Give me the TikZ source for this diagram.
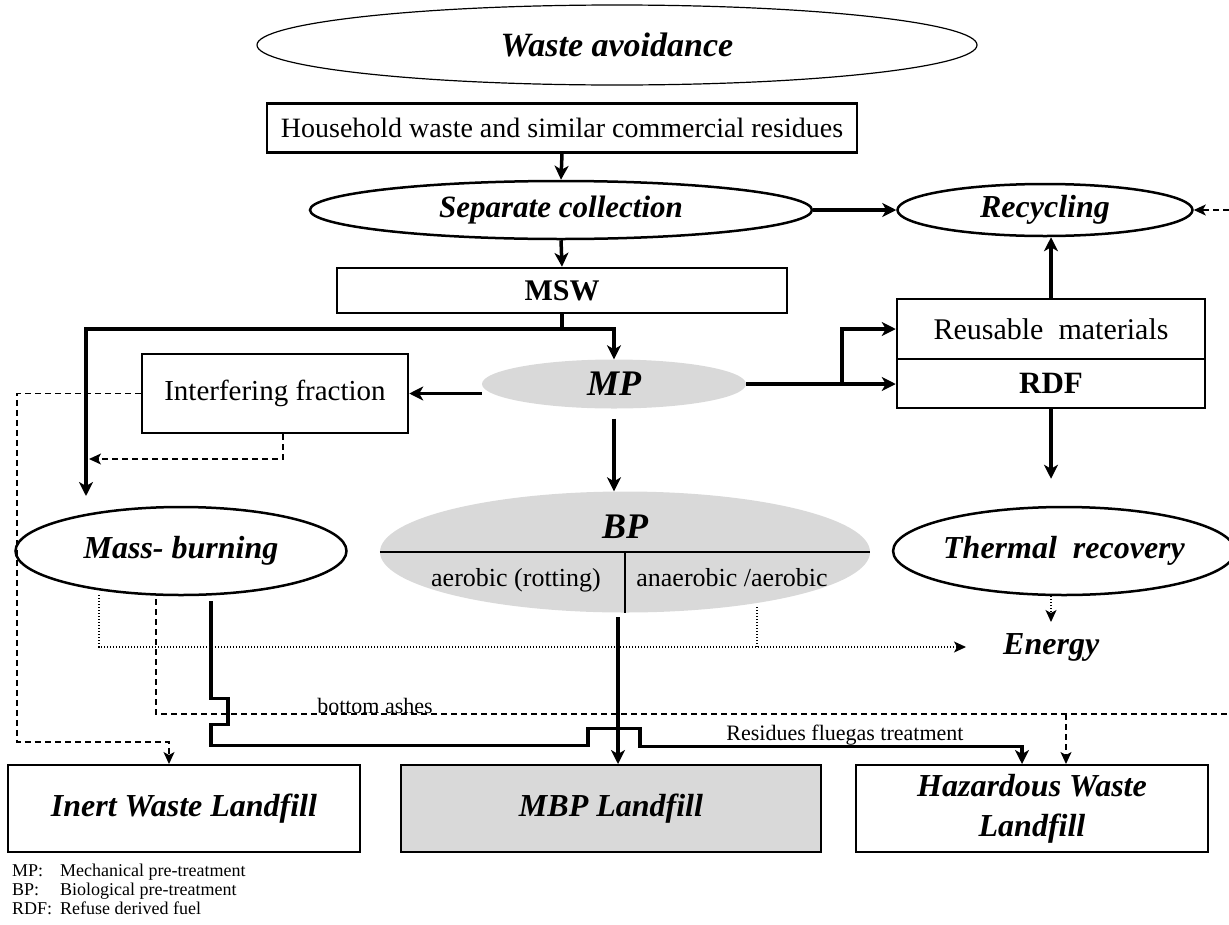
\documentclass[tikz,border=0pt]{standalone}
\usepackage{fontspec}
\setmainfont{Liberation Serif}
\usetikzlibrary{shapes.geometric,arrows.meta}
\definecolor{fillgray}{RGB}{217,217,217}
\newcommand\fsz[2]{\fontsize{#1}{#2}\selectfont}
\tikzset{>={Stealth[length=14pt,width=14pt,inset=4pt]}}
\begin{document}
\begin{tikzpicture}[x=1pt,y=-1pt,
 box/.style={draw,line width=2.5pt,inner sep=0pt,align=center,font=\fsz{28}{32}},
 oval/.style={ellipse,draw,line width=2.5pt,inner sep=0pt,font=\fsz{32}{36}\bfseries\itshape},
 grayoval/.style={ellipse,fill=fillgray,inner sep=0pt,font=\fsz{36}{40}\bfseries\itshape},
 fillbox/.style={draw,line width=2pt,inner sep=0pt,align=center,font=\fsz{32}{40}\bfseries\itshape},
 flow/.style={line width=3.5pt,->},
 dashline/.style={line width=1.3pt,dash pattern=on 6pt off 4pt},
 dashflow/.style={dashline,-{Stealth[length=12pt,width=11pt,inset=3pt]}},
 dotline/.style={line width=1.2pt,dash pattern=on 1.2pt off 1.8pt},
 dotflow/.style={dotline,-{Stealth[length=12pt,width=11pt,inset=3pt]}},
 lbl/.style={inner sep=0pt,font=\fsz{22}{26}},
 legtext/.style={inner sep=0pt,anchor=base west,font=\fsz{18}{20}}]
\useasboundingbox (0,0) rectangle (1229,924);

\node[oval,line width=1.2pt,minimum width=720pt,minimum height=80pt,font=\fsz{34}{38}\bfseries\itshape] (avoid) at (617,45) {Waste avoidance};
\node[box,minimum width=590pt,minimum height=49pt] (house) at (562,128) {Household waste and similar commercial residues};
\node[oval,minimum width=502pt,minimum height=58pt,font=\fsz{31}{35}\bfseries\itshape] (sep) at (561,210) {Separate collection};
\node[oval,minimum width=295pt,minimum height=52pt] (recyc) at (1045,210) {Recycling};
\node[box,minimum width=450pt,minimum height=45pt,font=\fsz{30}{34}\bfseries] (msw) at (562,290.5) {MSW};
\node[grayoval,minimum width=264pt,minimum height=49pt] (mp) at (614,384) {MP};
\node[box,minimum width=266pt,minimum height=79pt,font=\fsz{29}{33}] (interf) at (275,393.5) {Interfering fraction};
\node[box,minimum width=308pt,minimum height=60pt,font=\fsz{30}{34}] (reuse) at (1051,329) {Reusable\ \ materials};
\node[box,minimum width=308pt,minimum height=49pt,font=\fsz{31}{35}\bfseries] (rdf) at (1051,383.5) {RDF};
\node[oval,minimum width=331pt,minimum height=88pt] (mass) at (181,551) {Mass- burning};
\node[grayoval,minimum width=490pt,minimum height=121pt] (bp) at (625,552) {};
\node[inner sep=0pt,font=\fsz{36}{40}\bfseries\itshape] (bptitle) at (625,527) {BP};
\node[lbl,anchor=base,font=\fsz{26}{30}] (aero) at (516,586) {aerobic (rotting)};
\node[lbl,anchor=base,font=\fsz{26}{30}] (anaero) at (732,586) {anaerobic /aerobic};
\node[oval,minimum width=328pt,minimum height=88pt] (thermal) at (1064,551) {Thermal\ \ recovery};
\node[inner sep=0pt,anchor=west,font=\fsz{32}{36}\bfseries\itshape] (energy) at (1003,647) {Energy};
\node[fillbox,minimum width=352pt,minimum height=87pt] (inert) at (184,808.5) {Inert Waste Landfill};
\node[fillbox,fill=fillgray,minimum width=420pt,minimum height=87pt] (mbp) at (611,808.5) {MBP Landfill};
\node[fillbox,minimum width=352pt,minimum height=87pt] (hazard) at (1032,808.5) {Hazardous Waste\\Landfill};
\node[lbl] (ashes) at (375,706) {bottom ashes};
\node[lbl] (flue) at (845,735) {Residues fluegas treatment};
\foreach \k/\t [count=\i] in {MP/Mechanical pre-treatment,BP/Biological pre-treatment,RDF/Refuse derived fuel} {
  \node[legtext] (key\i) at (12,857+19*\i) {\k:};
  \node[legtext] (desc\i) at (60,857+19*\i) {\t};
}

\draw[line width=1.5pt] (bp.west) -- (bp.east);
\draw[line width=1.5pt] (bp.center) -- (bp.south);

\draw[flow] (house.south) -- (sep.north);
\draw[flow] (sep.south) -- (msw.north);
\draw[flow] (sep.east) -- (recyc.west);
\coordinate (redge) at (1229,210);
\draw[dashflow] (redge) -- (recyc.east);
\draw[flow] (reuse.north) -- (reuse.north |- recyc.south);

\coordinate (busL) at (86,329);
\coordinate (massin) at (86,496);
\draw[line width=3.5pt] (msw.south) -- (msw.south |- busL);
\draw[line width=3.5pt,<->] (massin) -- (busL) -| (mp.north);
\draw[flow] (mp.west |- interf.east) -- (interf.east);
\draw[flow] (mp.east) -- (mp.east -| rdf.west);
\coordinate (branch) at (842,384);
\draw[flow] (branch) |- (reuse.west);
\draw[flow,shorten <=10pt] (mp.south) -- (mp.south |- bp.north);
\draw[flow,shorten >=27pt] (rdf.south) -- (rdf.south |- thermal.north);

\coordinate (ia) at (17,742);
\coordinate (ib) at (169,742);
\draw[dashflow] (interf.west) -| (ia) -- (ib) -- (ib |- inert.north);
\coordinate (ic) at (283,459);
\coordinate (id) at (89,459);
\draw[dashflow] (interf.south -| ic) -- (ic) -- (id);

\coordinate (tdot) at (1051,622);
\draw[dotflow] (thermal.south -| tdot) -- (tdot);
\coordinate (dotL) at (99,595);
\draw[dotflow] (dotL) |- ([xshift=-37pt]energy.west);
\coordinate (bpdot) at (757,607);
\draw[dotline] (bpdot) -- (bpdot |- energy.west);

\coordinate (ashL) at (156,599);
\coordinate (ashR) at (1229,714);
\draw[dashline] (ashL) |- (ashR);
\coordinate (ashH) at (1066,714);
\draw[dashflow] (ashH) -- (ashH |- hazard.north);

\draw[flow] ([xshift=30pt,yshift=-5pt]mass.south) -- ++(0,97) -- ++(17,0) -- ++(0,26) -- ++(-17,0) -- ++(0,21) -- ++(377,0) -- ++(0,-17) -- ++(52,0) -- ++(0,18) -- ++(382,0) -- ([xshift=-10pt]hazard.north);
\coordinate (bpout) at (618,617);
\draw[flow] (bpout) -- (bpout |- mbp.north);
\end{tikzpicture}
\end{document}
